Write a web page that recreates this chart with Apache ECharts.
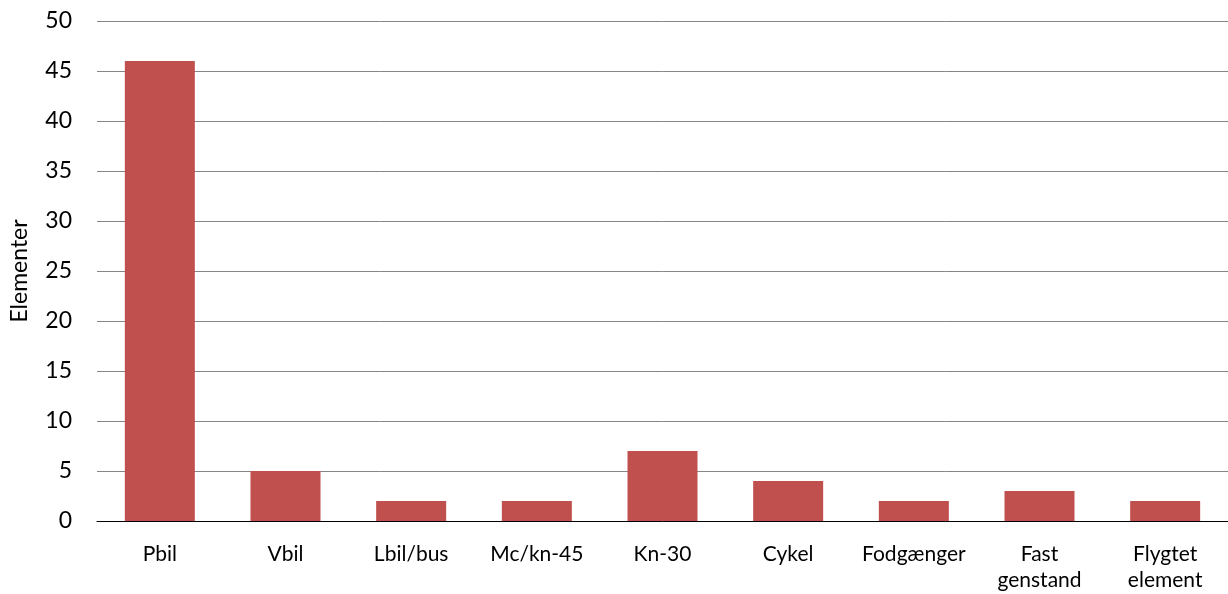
<!DOCTYPE html>
<html><head><meta charset="utf-8">
<script src="https://cdn.jsdelivr.net/npm/echarts@6/dist/echarts.min.js"></script>
<style>html,body{margin:0;padding:0;background:#fff}#c{width:1228px;height:594px}</style>
</head><body><div id="c"></div>
<script>
const categories = ['Pbil','Vbil','Lbil/bus','Mc/kn-45','Kn-30','Cykel','Fodgænger','Fast\ngenstand','Flygtet\nelement'];
const values = [46, 5, 2, 2, 7, 4, 2, 3, 2];
const yAxisName = 'Elementer';

const chart = echarts.init(document.getElementById('c'));
const font = "Lato, 'Open Sans', sans-serif";
chart.setOption({
  animation: false,
  grid: {left: 95, right: 0, top: 21, bottom: 73, containLabel: false},
  xAxis: {
    type: 'category', data: categories,
    axisLine: {lineStyle: {color: '#000', width: 1}},
    axisTick: {show: false},
    axisLabel: {color: '#000', fontSize: 21, fontFamily: font, margin: 20, lineHeight: 26, interval: 0}
  },
  yAxis: {
    type: 'value', min: 0, max: 50, interval: 5,
    name: yAxisName, nameLocation: 'middle', nameGap: 66,
    nameTextStyle: {color: '#000', fontSize: 23, fontFamily: font},
    axisLine: {show: false}, axisTick: {show: false},
    axisLabel: {color: '#000', fontSize: 23, fontFamily: font, margin: 25},
    splitLine: {lineStyle: {color: '#868686', width: 1}}
  },
  series: [{
    type: 'bar', data: values, barWidth: 70,
    itemStyle: {color: '#C0504D'}
  }]
});
</script></body></html>
